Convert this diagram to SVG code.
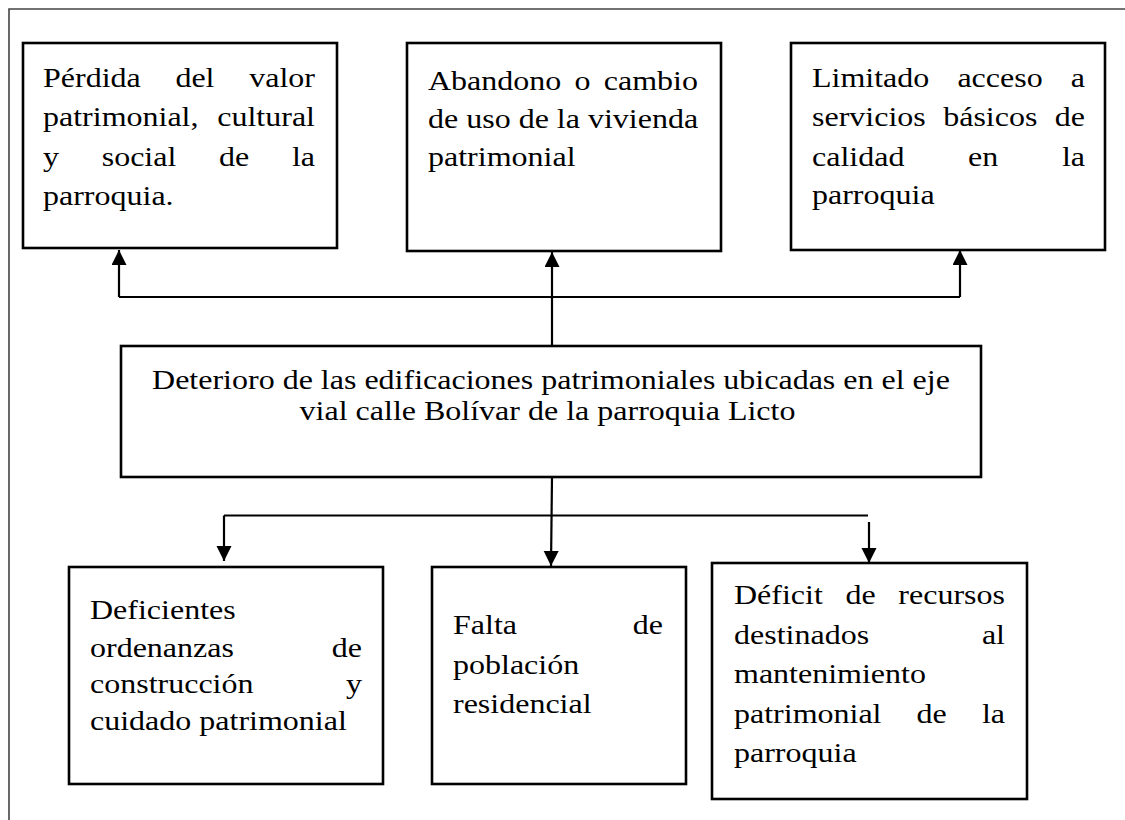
<svg xmlns="http://www.w3.org/2000/svg" width="1125" height="820" viewBox="0 0 1125 820">
<style>
.box{fill:#fff;stroke:#000;stroke-width:2.6}
.frame{fill:none;stroke:#444;stroke-width:1.6}
.con{fill:none;stroke:#000;stroke-width:2.2}
text{font-family:"Liberation Serif","Times New Roman",serif;font-size:27.6px;fill:#000}
.e{text-anchor:end}
.m{text-anchor:middle}
</style>
<defs>
<marker id="ah" markerUnits="userSpaceOnUse" markerWidth="16" markerHeight="16" refX="15" refY="7.5" orient="auto">
<path d="M0,0 L15,7.5 L0,15 Z" fill="#000"/>
</marker>
</defs>
<rect width="1125" height="820" fill="#fff"/>
<path class="frame" d="M9,820 V9 H1125"/>
<g id="connectors">
<path class="con" d="M552,346 V252" marker-end="url(#ah)"/>
<path class="con" d="M119,297 H960"/>
<path class="con" d="M119,297 V250" marker-end="url(#ah)"/>
<path class="con" d="M960,297 V250" marker-end="url(#ah)"/>
<path class="con" d="M552,477 L551,566" marker-end="url(#ah)"/>
<path class="con" d="M224,515.5 H868"/>
<path class="con" d="M224,515.5 V561" marker-end="url(#ah)"/>
<path class="con" d="M869,522 V563" marker-end="url(#ah)"/>
</g>
<g id="n1">
<rect class="box" x="23" y="43" width="314" height="205"/>
<g transform="scale(1.16,1)">
<text x="37.07" y="87">Pérdida</text><text x="151.21" y="87">del</text><text class="e" x="271.55" y="87">valor</text>
<text x="37.07" y="126">patrimonial,</text><text class="e" x="271.55" y="126">cultural</text>
<text x="37.07" y="166">y</text><text x="87.67" y="166">social</text><text x="188.88" y="166">de</text><text class="e" x="271.55" y="166">la</text>
<text x="37.07" y="205">parroquia.</text>
</g>
</g>
<g id="n2">
<rect class="box" x="407" y="43" width="314" height="208"/>
<g transform="scale(1.16,1)">
<text x="368.97" y="90.5">Abandono</text><text x="495.34" y="90.5">o</text><text class="e" x="601.72" y="90.5">cambio</text>
<text x="368.97" y="128.3">de uso de la vivienda</text>
<text x="368.97" y="165.7">patrimonial</text>
</g>
</g>
<g id="n3">
<rect class="box" x="791" y="43" width="314" height="207"/>
<g transform="scale(1.16,1)">
<text x="700" y="87">Limitado</text><text x="825.34" y="87">acceso</text><text class="e" x="935.34" y="87">a</text>
<text x="700" y="126">servicios</text><text x="813.1" y="126">básicos</text><text class="e" x="935.34" y="126">de</text>
<text x="700" y="166">calidad</text><text x="834.48" y="166">en</text><text class="e" x="935.34" y="166">la</text>
<text x="700" y="204">parroquia</text>
</g>
</g>
<g id="center">
<rect class="box" x="121" y="346" width="860" height="131"/>
<g transform="scale(1.16,1)">
<text class="m" x="475" y="388.6">Deterioro de las edificaciones patrimoniales ubicadas en el eje</text>
<text class="m" x="472" y="419.6">vial calle Bolívar de la parroquia Licto</text>
</g>
</g>
<g id="n4">
<rect class="box" x="69" y="567" width="314" height="217"/>
<g transform="scale(1.16,1)">
<text x="77.59" y="619.3">Deficientes</text>
<text x="77.59" y="656.7">ordenanzas</text><text class="e" x="312.07" y="656.7">de</text>
<text x="77.59" y="693.3">construcción</text><text class="e" x="312.07" y="693.3">y</text>
<text x="77.59" y="730">cuidado patrimonial</text>
</g>
</g>
<g id="n5">
<rect class="box" x="432" y="567" width="254" height="217"/>
<g transform="scale(1.16,1)">
<text x="390.52" y="634">Falta</text><text class="e" x="571.55" y="634">de</text>
<text x="390.52" y="674">población</text>
<text x="390.52" y="713.3">residencial</text>
</g>
</g>
<g id="n6">
<rect class="box" x="712" y="563" width="315" height="236"/>
<g transform="scale(1.16,1)">
<text x="632.76" y="604">Déficit</text><text x="728.88" y="604">de</text><text class="e" x="866.38" y="604">recursos</text>
<text x="632.76" y="644">destinados</text><text class="e" x="866.38" y="644">al</text>
<text x="632.76" y="683.3">mantenimiento</text>
<text x="632.76" y="722.7">patrimonial</text><text x="790.17" y="722.7">de</text><text class="e" x="866.38" y="722.7">la</text>
<text x="632.76" y="761.7">parroquia</text>
</g>
</g>
</svg>
